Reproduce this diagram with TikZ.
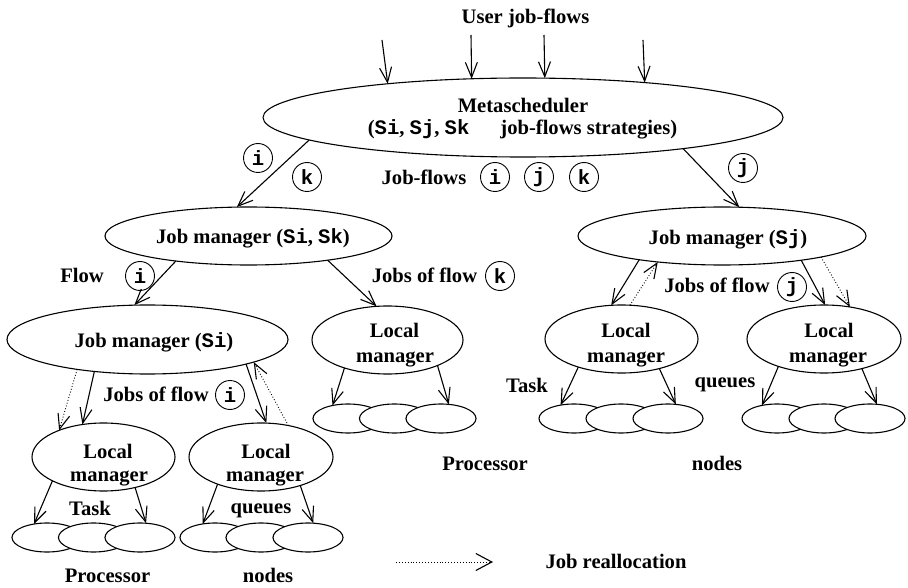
\documentclass[tikz,border=0pt]{standalone}
\usepackage{fontspec}
\setmainfont{Liberation Serif}
\newfontfamily\cour{Liberation Mono}
\usetikzlibrary{shapes.geometric,arrows.meta}
\begin{document}
\begin{tikzpicture}[x=1pt,y=-1pt,
  every node/.style={inner sep=0pt, outer sep=0pt},
  ell/.style={ellipse, draw, line width=1.1pt, fill=white},
  pe/.style={ell, minimum width=70pt, minimum height=29pt},
  txt/.style={anchor=base, font=\bfseries\fontsize{20.6}{24}\selectfont},
  cir/.style={circle, draw, line width=0.9pt, minimum size=29pt, font=\cour\bfseries\fontsize{20.6}{24}\selectfont},
  arr/.style={line width=1.1pt, -{Straight Barb[length=15pt,width=12pt]}},
  darr/.style={line width=0.9pt, dotted, -{Straight Barb[length=15pt,width=12pt,line width=1.1pt]}}
]
\useasboundingbox (0,0) rectangle (908,588);

% ---- ellipses
\node[ell, minimum width=520pt, minimum height=79pt] (meta) at (523,117.5) {};
\node[ell, minimum width=287pt, minimum height=58pt] (jmik) at (248.5,236) {};
\node[ell, minimum width=288pt, minimum height=58pt] (jmj) at (722,236) {};
\node[ell, minimum width=281pt, minimum height=69pt] (jmi) at (147.5,339.5) {};
\node[ell, minimum width=151pt, minimum height=68pt] (lmk) at (387.5,340) {};
\node[ell, minimum width=153pt, minimum height=68pt] (lmja) at (621.5,339) {};
\node[ell, minimum width=154pt, minimum height=68pt] (lmjb) at (824,339) {};
\node[ell, minimum width=143pt, minimum height=68pt] (lmia) at (103.5,457) {};
\node[ell, minimum width=144pt, minimum height=68pt] (lmib) at (261,457) {};

% ---- processor nodes
\node[pe] (pk1) at (348,418.5) {};
\node[pe] (pk2) at (394.5,418.5) {};
\node[pe] (pk3) at (441,418.5) {};
\node[pe] (pa1) at (574,418.5) {};
\node[pe] (pa2) at (621,418.5) {};
\node[pe] (pa3) at (668,418.5) {};
\node[pe] (pb1) at (777,418.5) {};
\node[pe] (pb2) at (824,418.5) {};
\node[pe] (pb3) at (870,418.5) {};
\node[pe] (pc1) at (47,537.5) {};
\node[pe] (pc2) at (93.5,537.5) {};
\node[pe] (pc3) at (140,537.5) {};
\node[pe] (pd1) at (215,537.5) {};
\node[pe] (pd2) at (261,537.5) {};
\node[pe] (pd3) at (308,537.5) {};

% ---- texts
\node[txt] (tuser) at (525.5,24) {User job-flows};
\node[txt] (tmeta1) at (523,113) {Metascheduler};
\node[txt] (tmeta2) at (522.5,135) {({\cour Si}, {\cour Sj}, {\cour Sk}\hspace{31pt}job-flows strategies)};
\node[txt] (tjf) at (424,185) {Job-flows};
\node[txt] (tjmik) at (253,244) {Job manager ({\cour Si}, {\cour Sk})};
\node[txt] (tjmj) at (728,245) {Job manager ({\cour Sj})};
\node[txt] (tflow) at (82,283) {Flow};
\node[txt] (tjofk) at (424.5,283) {Jobs of flow};
\node[txt] (tjofj) at (717,293) {Jobs of flow};
\node[txt] (tjmi) at (154,347) {Job manager ({\cour Si})};
\node[txt] (tlk1) at (394.5,337) {Local};
\node[txt] (tlk2) at (395,362) {manager};
\node[txt] (tla1) at (626,337) {Local};
\node[txt] (tla2) at (626,362) {manager};
\node[txt] (tlb1) at (829,337) {Local};
\node[txt] (tlb2) at (828,362) {manager};
\node[txt] (tjofi) at (156,401) {Jobs of flow};
\node[txt] (tlc1) at (108,458) {Local};
\node[txt] (tlc2) at (109,481) {manager};
\node[txt] (tld1) at (266,458) {Local};
\node[txt] (tld2) at (265,481) {manager};
\node[txt] (ttask1) at (90,515) {Task};
\node[txt] (tq1) at (261,513) {queues};
\node[txt] (ttask2) at (527,392) {Task};
\node[txt] (tq2) at (725,387) {queues};
\node[txt] (tproc1) at (485,470) {Processor};
\node[txt] (tnodes1) at (717,470) {nodes};
\node[txt] (tproc2) at (107.5,582) {Processor};
\node[txt] (tnodes2) at (268,582) {nodes};
\node[txt] (treal) at (616,568) {Job reallocation};

% ---- circled flow labels
\node[cir] (ci1) at (258,158) {i};
\node[cir] (ck1) at (307,177) {k};
\node[cir] (cj1) at (743,168) {j};
\node[cir] (ci2) at (495,177) {i};
\node[cir] (cj2) at (539,177) {j};
\node[cir] (ck2) at (584,177) {k};
\node[cir] (ci3) at (140,276) {i};
\node[cir] (ck3) at (500,276) {k};
\node[cir] (cj3) at (792,287) {j};
\node[cir] (ci4) at (230,395) {i};

% ---- user job-flows
\coordinate (u1) at (382,40);
\coordinate (u2) at (471,35);
\coordinate (u3) at (544,35);
\coordinate (u4) at (643,40);
\draw[arr] (u1) -- (meta.166.75);
\draw[arr] (u2) -- (meta.143.3);
\draw[arr] (u3) -- (meta.61.9);
\draw[arr] (u4) -- (meta.16.3);

% ---- tree connectors
\draw[arr] (meta.186.9) -- (jmik.112);
\draw[arr] (meta.349.8) -- (jmj.59);
\draw[arr] (jmik.199.7) -- (jmi.111.7);
\draw[arr] (jmik.343.8) -- (lmk.108.7);
\draw[arr] (jmj.196.3) -- (lmja.107.7);
\draw[darr] (lmja.76) -- (jmj.202.5);
\draw[arr] (jmj.343) -- (lmjb.88.4);
\draw[darr] (jmj.348.2) -- (lmjb.51.8);
\draw[darr] (jmi.203.6) -- (lmia.149.9);
\draw[arr] (jmi.211.7) -- (lmia.123.9);
\draw[arr] (jmi.346) -- (lmib.81.5);
\draw[darr] (lmib.49.8) -- (jmi.348.7);

% ---- to processor nodes
\draw[arr] (lmk.213.4) -- (pk1.140.5);
\draw[arr] (lmk.333.6) -- (pk3.61.4);
\draw[arr] (lmja.213.7) -- (pa1.135.9);
\draw[arr] (lmja.322.3) -- (pa3.61.4);
\draw[arr] (lmjb.211.7) -- (pb1.139);
\draw[arr] (lmjb.322.7) -- (pb3.64.1);
\draw[arr] (lmia.205.9) -- (pc1.134.3);
\draw[arr] (lmia.316.4) -- (pc3.67.7);
\draw[arr] (lmib.212.9) -- (pd1.132.7);
\draw[arr] (lmib.324.5) -- (pd3.70.3);

% ---- legend
\coordinate (lg1) at (396,562);
\coordinate (lg2) at (493,562);
\draw[line width=0.9pt, dotted, -{Straight Barb[length=16pt,width=17pt,line width=1.1pt]}] (lg1) -- (lg2);
\end{tikzpicture}
\end{document}
